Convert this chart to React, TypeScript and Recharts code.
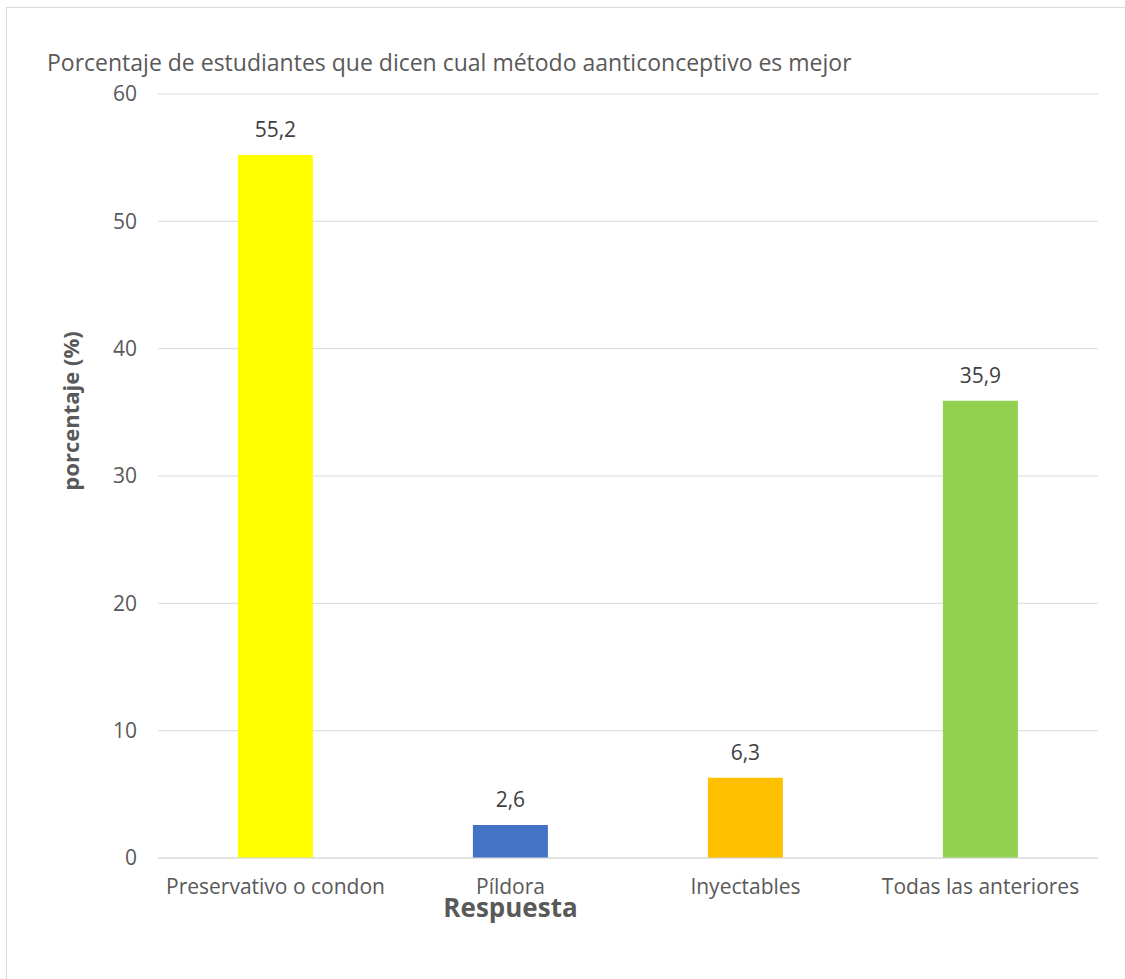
import React from "react";
import { BarChart, Bar, XAxis, YAxis, CartesianGrid, Cell, LabelList, Label } from "recharts";

const categories = ["Preservativo o condon", "Píldora", "Inyectables", "Todas las anteriores"];
const values = [55.2, 2.6, 6.3, 35.9];
const colors = ["#FFFF00", "#4472C4", "#FFC000", "#92D050"];
const yTicks = [0, 10, 20, 30, 40, 50, 60];
const title = "Porcentaje de estudiantes que dicen cual método aanticonceptivo es mejor";
const xTitle = "Respuesta";
const yTitle = "porcentaje (%)";

const data = categories.map((c, i) => ({ name: c, value: values[i] }));

const FONT = "'Open Sans', sans-serif";
const TXT = "#595959";

export default function App() {
  return (
    <div style={{ position: "absolute", left: 0, top: 0, width: 1125, height: 979, background: "#fff", overflow: "hidden", fontFamily: FONT }}>
      <div style={{ position: "absolute", left: 6, top: 7, width: 1130, height: 990, border: "1px solid #d9d9d9", boxSizing: "border-box" }} />
      <div style={{ position: "absolute", left: 47, top: 46, fontSize: 23, color: TXT, whiteSpace: "nowrap", lineHeight: "32px" }}>{title}</div>
      <div style={{ position: "absolute", left: 0, top: 0 }}>
        <BarChart width={1125} height={979} data={data} margin={{ top: 94, right: 27, bottom: 61, left: 0 }} barCategoryGap="34%">
          <CartesianGrid vertical={false} stroke="#d9d9d9" strokeWidth={1} />
          <XAxis
            dataKey="name"
            axisLine={{ stroke: "#d9d9d9" }}
            tickLine={false}
            tickSize={0}
            tickMargin={21}
            height={60}
            tick={{ fill: TXT, fontSize: 21, fontFamily: FONT }}
            interval={0}
          >
            <Label
              content={({ viewBox }: any) => (
                <text x={viewBox.x + viewBox.width / 8 * 3} y={viewBox.y + 59} textAnchor="middle" fill={TXT} fontSize={26} fontWeight="bold" fontFamily={FONT}>
                  {xTitle}
                </text>
              )}
            />
          </XAxis>
          <YAxis
            domain={[0, 60]}
            ticks={yTicks}
            width={158}
            axisLine={false}
            tickLine={false}
            tickSize={0}
            tickMargin={21}
            tick={{ fill: TXT, fontSize: 21, fontFamily: FONT }}
          >
            <Label
              content={({ viewBox }: any) => {
                const cx = 70;
                const cy = viewBox.y + viewBox.height / 2 - 65;
                return (
                  <text x={cx} y={cy} transform={`rotate(-90 ${cx} ${cy})`} textAnchor="middle" dominantBaseline="central" fill={TXT} fontSize={22} fontWeight="bold" fontFamily={FONT}>
                    {yTitle}
                  </text>
                );
              }}
            />
          </YAxis>
          <Bar dataKey="value" isAnimationActive={false}>
            {data.map((d, i) => (
              <Cell key={d.name} fill={colors[i]} />
            ))}
            <LabelList
              dataKey="value"
              position="top"
              offset={18}
              formatter={(v: any) => String(v).replace(".", ",")}
              style={{ fill: "#404040", fontSize: 21, fontFamily: FONT }}
            />
          </Bar>
        </BarChart>
      </div>
    </div>
  );
}
